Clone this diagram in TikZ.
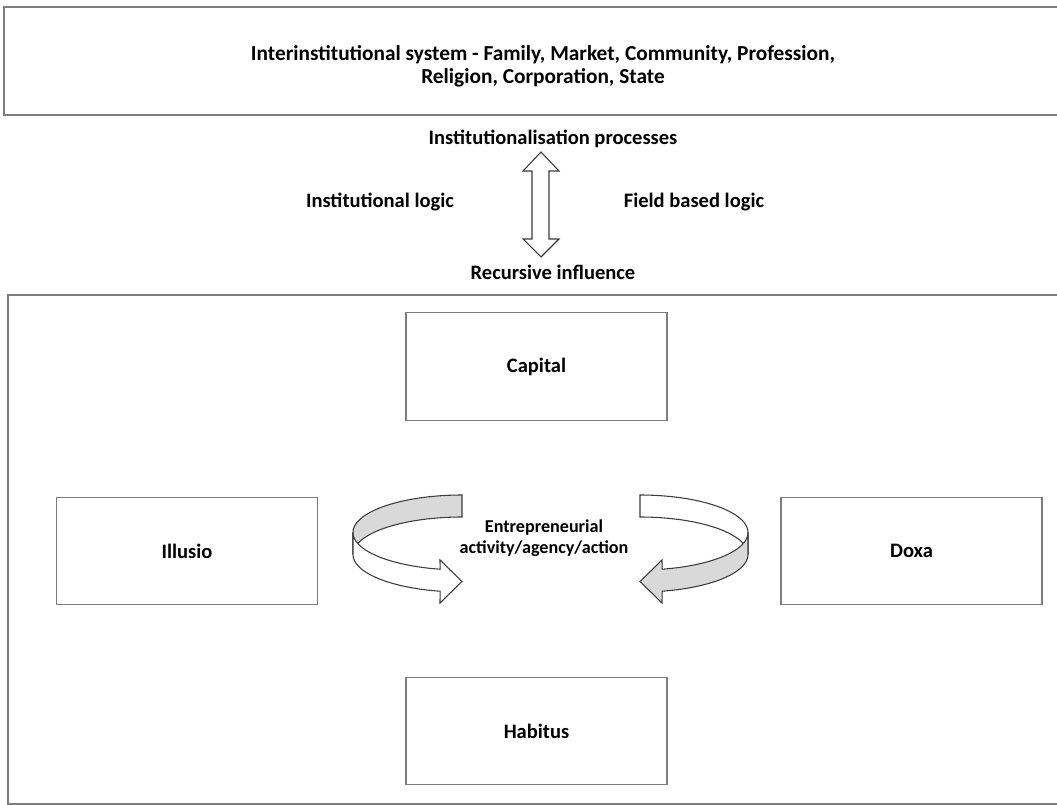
\documentclass[tikz,border=0pt]{standalone}
\usepackage{fontspec}
\setmainfont{Carlito}
\definecolor{framegray}{RGB}{125,125,125}
\definecolor{arrowdark}{RGB}{60,60,60}
\definecolor{ribbongray}{RGB}{217,217,217}
\begin{document}
\begin{tikzpicture}[x=0.75pt,y=-0.75pt,
  frame/.style={draw=framegray, line width=1.2pt},
  box/.style={draw=framegray, line width=0.9pt, minimum width=195.75pt, minimum height=80.5pt, inner sep=0pt, font=\bfseries\fontsize{15.4}{18}\selectfont},
  lbl/.style={font=\bfseries\fontsize{15.4}{18}\selectfont, inner sep=0pt},
  ribbon/.style={draw=arrowdark, line width=0.8pt, line join=miter},
]
\useasboundingbox (0,0) rectangle (1057,805);
\clip (0,0) rectangle (1057,805);
\fill[white] (0,0) rectangle (1057,805);

% outer frames
\draw[frame] (4,7) rectangle (1070,115);
\draw[frame] (8,295) rectangle (1070,804);

% top text
\node[lbl, align=center, font=\bfseries\fontsize{16}{17.2}\selectfont] (sys) at (543,66)
  {Interinstitutional system - Family, Market, Community, Profession,\\Religion, Corporation, State};

% middle labels
\node[lbl] (inst) at (553,139) {Institutionalisation processes};
\node[lbl] (ilogic) at (380,202) {Institutional logic};
\node[lbl] (flogic) at (694,202) {Field based logic};
\node[lbl] (recur) at (553,272) {Recursive influence};

% double block arrow
\filldraw[ribbon, fill=white] (541,152) -- (559,171) -- (549,171) -- (549,239) -- (559,239)
  -- (541,257) -- (523,239) -- (532,239) -- (532,171) -- (523,171) -- cycle;

% boxes
\node[box] (capital) at (536.5,366.5) {Capital};
\node[box] (habitus) at (536.5,731) {Habitus};
\node[box] (illusio) at (187,551) {Illusio};
\node[box] (doxa) at (911.5,551) {Doxa};

% centre text
\node[lbl, align=center, font=\bfseries\fontsize{13.6}{15.8}\selectfont] (entre) at (544,538)
  {Entrepreneurial\\activity/agency/action};

% left ribbon arrow: back part (grey)
\filldraw[ribbon, fill=ribbongray]
  plot[domain=270:180, samples=40, variable=\t] ({462+109*cos(\t)},{532.5+37.5*sin(\t)})
  -- plot[domain=180:270, samples=40, variable=\t] ({462+109*cos(\t)},{554.5+37.5*sin(\t)})
  -- cycle;
% left ribbon arrow: front part (white)
\filldraw[ribbon, fill=white]
  plot[domain=180:101.6, samples=40, variable=\t] ({462+109*cos(\t)},{532.5+37.5*sin(\t)})
  -- (440,560) -- (462,581.5) -- (440,603)
  -- plot[domain=101.6:180, samples=40, variable=\t] ({462+109*cos(\t)},{554.5+37.5*sin(\t)})
  -- cycle;

% right ribbon arrow: back part (white)
\filldraw[ribbon, fill=white]
  plot[domain=270:360, samples=40, variable=\t] ({640+108*cos(\t)},{532.5+37.5*sin(\t)})
  -- plot[domain=360:270, samples=40, variable=\t] ({640+108*cos(\t)},{554.5+37.5*sin(\t)})
  -- cycle;
% right ribbon arrow: front part (grey)
\filldraw[ribbon, fill=ribbongray]
  plot[domain=0:78.2, samples=40, variable=\t] ({640+108*cos(\t)},{532.5+37.5*sin(\t)})
  -- (662,560) -- (640,581.5) -- (662,603)
  -- plot[domain=78.2:0, samples=40, variable=\t] ({640+108*cos(\t)},{554.5+37.5*sin(\t)})
  -- cycle;
\end{tikzpicture}
\end{document}
